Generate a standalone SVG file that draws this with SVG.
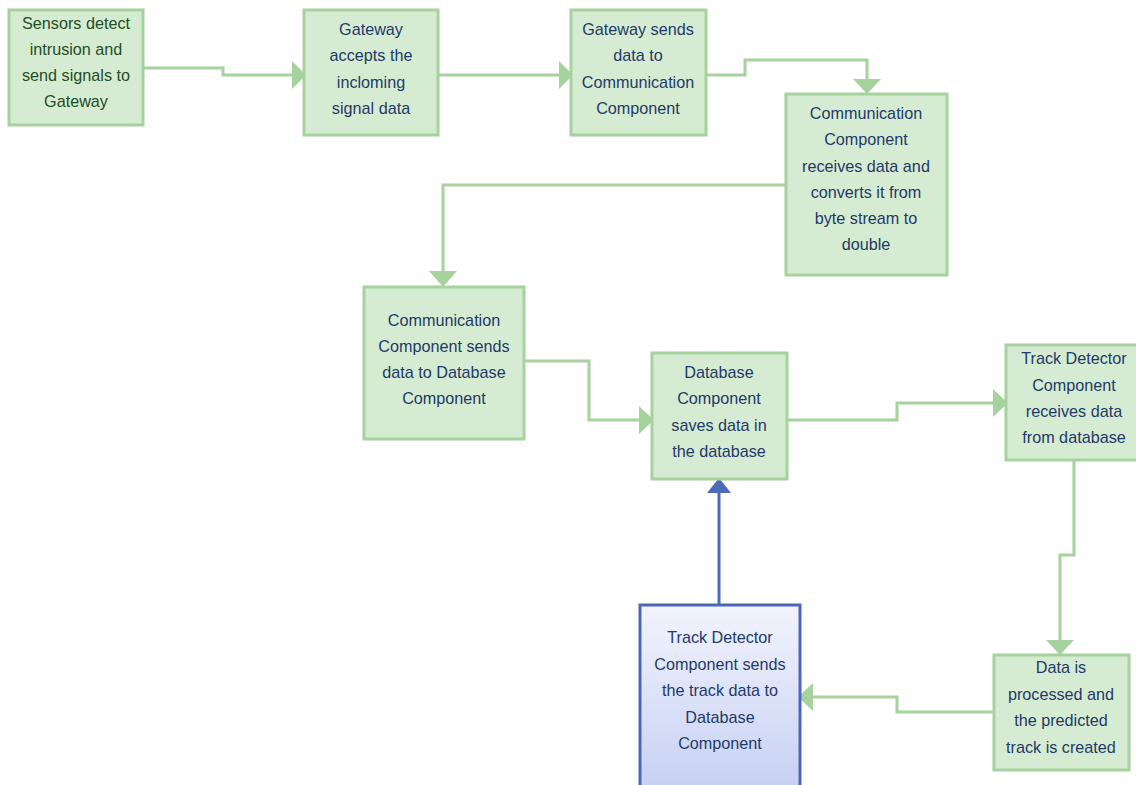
<svg xmlns="http://www.w3.org/2000/svg" width="1136" height="785" viewBox="0 0 1136 785">
<defs>
<style>
.n{fill:#d6ecd2;stroke:#a6d29e;stroke-width:3}
.b{fill:url(#bg);stroke:#4d67b8;stroke-width:3}
.t{font-family:"Liberation Sans",Arial,sans-serif;font-size:16.2px;fill:#1f3a68;text-anchor:middle}
.g{fill:#254d25}
.c{fill:none;stroke:#a6d29e;stroke-width:3}
.cb{fill:none;stroke:#4d6bbd;stroke-width:3}
.ah{fill:#a6d29e}
.ab{fill:#4d6bbd}
</style>
<linearGradient id="bg" x1="0" y1="0" x2="0" y2="1">
<stop offset="0" stop-color="#f2f4fd"/>
<stop offset="1" stop-color="#c6d0f3"/>
</linearGradient>
</defs>
<rect width="1136" height="785" fill="#ffffff"/>
<g id="connectors">
<path class="c" d="M143,68 H223 V75 H294"/>
<polygon class="ah" points="292,61 306,75 292,89"/>
<path class="c" d="M438,75 H561"/>
<polygon class="ah" points="559,61 573,75 559,89"/>
<path class="c" d="M706,75 H745 V60 H867 V82"/>
<polygon class="ah" points="853,79 867,94 881,79"/>
<path class="c" d="M786,185 H443 V275"/>
<polygon class="ah" points="429,271 443,287 457,271"/>
<path class="c" d="M524,361 H589 V420 H642"/>
<polygon class="ah" points="639,406 654,420 639,434"/>
<path class="c" d="M787,420 H897 V403 H996"/>
<polygon class="ah" points="993,389 1008,403 993,417"/>
<path class="c" d="M1074,460 V555 H1060 V643"/>
<polygon class="ah" points="1046,640 1060,655 1074,640"/>
<path class="c" d="M994,712 H897 V697 H810"/>
<polygon class="ah" points="813,683 798,697 813,711"/>
<path class="cb" d="M719,605 V491"/>
<polygon class="ab" points="707,493 719,478 731,493"/>
</g>
<g id="n1"><rect class="n" x="9" y="10" width="134" height="115"/>
<text class="t g" x="76" y="29">Sensors detect</text><text class="t g" x="76" y="55">intrusion and</text><text class="t g" x="76" y="81">send signals to</text><text class="t g" x="76" y="107">Gateway</text></g>
<g id="n2"><rect class="n" x="304" y="10" width="134" height="125"/>
<text class="t" x="371" y="35">Gateway</text><text class="t" x="371" y="61">accepts the</text><text class="t" x="371" y="88">incloming</text><text class="t" x="371" y="114">signal data</text></g>
<g id="n3"><rect class="n" x="571" y="10" width="135" height="125"/>
<text class="t" x="638" y="35">Gateway sends</text><text class="t" x="638" y="61">data to</text><text class="t" x="638" y="88">Communication</text><text class="t" x="638" y="114">Component</text></g>
<g id="n4"><rect class="n" x="786" y="94" width="161" height="181"/>
<text class="t" x="866" y="119">Communication</text><text class="t" x="866" y="145">Component</text><text class="t" x="866" y="172">receives data and</text><text class="t" x="866" y="198">converts it from</text><text class="t" x="866" y="224">byte stream to</text><text class="t" x="866" y="250">double</text></g>
<g id="n5"><rect class="n" x="364" y="287" width="160" height="152"/>
<text class="t" x="444" y="326">Communication</text><text class="t" x="444" y="352">Component sends</text><text class="t" x="444" y="378">data to Database</text><text class="t" x="444" y="404">Component</text></g>
<g id="n6"><rect class="n" x="652" y="353" width="135" height="126"/>
<text class="t" x="719" y="378">Database</text><text class="t" x="719" y="404">Component</text><text class="t" x="719" y="431">saves data in</text><text class="t" x="719" y="457">the database</text></g>
<g id="n7"><rect class="n" x="1006" y="345" width="132" height="115"/>
<text class="t" x="1074" y="364">Track Detector</text><text class="t" x="1074" y="391">Component</text><text class="t" x="1074" y="417">receives data</text><text class="t" x="1074" y="443">from database</text></g>
<g id="n8"><rect class="n" x="994" y="655" width="135" height="115"/>
<text class="t" x="1061" y="673">Data is</text><text class="t" x="1061" y="700">processed and</text><text class="t" x="1061" y="726">the predicted</text><text class="t" x="1061" y="753">track is created</text></g>
<g id="n9"><rect class="b" x="640" y="605" width="160" height="185"/>
<text class="t" x="720" y="643">Track Detector</text><text class="t" x="720" y="670">Component sends</text><text class="t" x="720" y="696">the track data to</text><text class="t" x="720" y="723">Database</text><text class="t" x="720" y="749">Component</text></g>
</svg>
